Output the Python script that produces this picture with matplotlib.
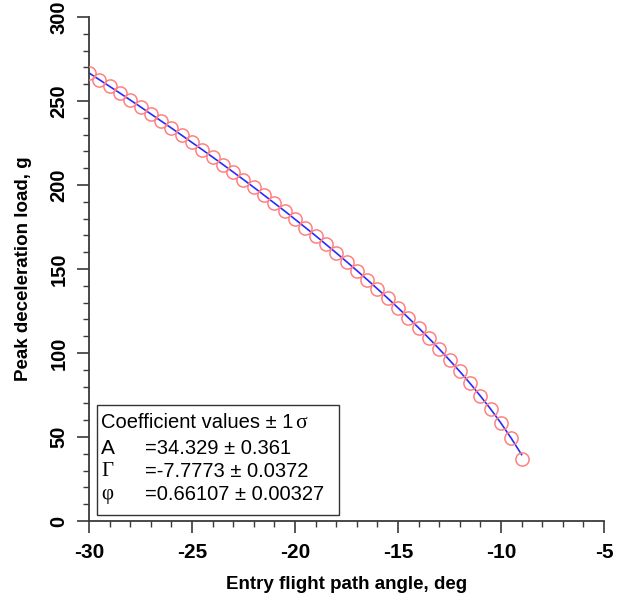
import numpy as np
import matplotlib
matplotlib.use("Agg")
import matplotlib.pyplot as plt
from matplotlib.ticker import MultipleLocator
from matplotlib.patches import Rectangle

SANS = ["Liberation Sans", "DejaVu Sans"]
SERIF = ["Liberation Serif", "DejaVu Serif"]
plt.rcParams["axes.unicode_minus"] = False
plt.rcParams["font.family"] = SANS

# entry flight path angle (deg) and peak deceleration load (g)
angle_deg = [-30.0, -29.5, -29.0, -28.5, -28.0, -27.5, -27.0, -26.5, -26.0, -25.5,
             -25.0, -24.5, -24.0, -23.5, -23.0, -22.5, -22.0, -21.5, -21.0, -20.5,
             -20.0, -19.5, -19.0, -18.5, -18.0, -17.5, -17.0, -16.5, -16.0, -15.5,
             -15.0, -14.5, -14.0, -13.5, -13.0, -12.5, -12.0, -11.5, -11.0, -10.5,
             -10.0, -9.5, -9.0]
load_g = [266.7, 262.7, 258.7, 254.7, 250.6, 246.5, 242.3, 238.1, 233.9, 229.6,
          225.3, 221.0, 216.6, 212.2, 207.7, 203.2, 198.6, 193.9, 189.2, 184.5,
          179.6, 174.7, 169.8, 164.7, 159.6, 154.4, 149.1, 143.7, 138.2, 132.6,
          126.9, 121.0, 115.0, 108.8, 102.4, 95.8, 89.0, 81.9, 74.4, 66.6,
          58.2, 49.2, 37.0]
# fitted curve values at the same angles
fit_g = [266.7, 262.7, 258.7, 254.7, 250.6, 246.5, 242.3, 238.1, 233.9, 229.6,
         225.3, 221.0, 216.6, 212.2, 207.7, 203.2, 198.6, 193.9, 189.2, 184.5,
         179.6, 174.7, 169.8, 164.7, 159.6, 154.4, 149.1, 143.7, 138.2, 132.6,
         126.9, 121.0, 115.0, 108.8, 102.4, 95.8, 89.0, 81.9, 74.4, 66.6,
         58.2, 49.2, 39.5]

coef_names = ["A", "\u0393", "\u03c6"]
coef_values = ["=34.329 \u00b1 0.361", "=-7.7773 \u00b1 0.0372", "=0.66107 \u00b1 0.00327"]

AXC = "#3a3a3a"

fig = plt.figure(figsize=(6.21, 6.05), dpi=100)
ax = fig.add_axes([89 / 621, 1 - 521 / 605, 515 / 621, 504 / 605])

ax.plot(angle_deg, fit_g, color="#2a2aff", lw=1.2, zorder=2)
ax.plot(angle_deg, load_g, ls="none", marker="o", ms=9.5, mfc="none",
        mec="#ff8080", mew=1.1, zorder=3)

ax.set_xlim(-30, -5)
ax.set_ylim(0, 300)
ax.xaxis.set_major_locator(MultipleLocator(5))
ax.xaxis.set_minor_locator(MultipleLocator(1))
ax.yaxis.set_major_locator(MultipleLocator(50))
ax.yaxis.set_minor_locator(MultipleLocator(10))

for s in ["top", "right"]:
    ax.spines[s].set_visible(False)
for s in ["left", "bottom"]:
    ax.spines[s].set_color(AXC)
    ax.spines[s].set_linewidth(1.3)

ax.tick_params(which="major", direction="out", length=8.6, width=1.2, color=AXC)
ax.tick_params(which="minor", direction="out", length=4.3, width=1.0, color=AXC)
ax.tick_params(axis="x", which="major", pad=7, labelsize=15)
ax.tick_params(axis="y", which="major", pad=6, labelsize=14.5, labelrotation=90)
plt.setp(ax.get_xticklabels(), fontweight="bold")
plt.setp(ax.get_yticklabels(), fontweight="bold", va="center")

ax.set_xlabel("Entry flight path angle, deg", weight="bold", fontsize=13.5, labelpad=10)
ax.set_ylabel("Peak deceleration load, g", weight="bold", fontsize=13.5, labelpad=13)

# coefficient box (figure pixel layout)
W, H = 621, 605
def fx(px):
    return px / W
def fy(py):
    return 1 - py / H

fig.patches.append(Rectangle((fx(97), fy(515)), fx(339) - fx(97), fy(405) - fy(515),
                             transform=fig.transFigure, fill=False, ec="#333333", lw=1.0))
head = fig.text(fx(101), fy(423), "Coefficient values \u00b1 1", fontsize=14.5, va="center")
fig.canvas.draw()
ax.annotate("\u03c3", xy=(1, 0.5), xycoords=head, xytext=(1, 0), textcoords="offset points",
            family=SERIF, fontsize=15.5, va="center", ha="left")
for i, (n, v) in enumerate(zip(coef_names, coef_values)):
    y = fy(448 + 23.5 * i)
    fam = SANS if n == "A" else SERIF
    fig.text(fx(101), y, n, family=fam, fontsize=15, va="center")
    fig.text(fx(145), y, v, fontsize=14.5, va="center")

fig.savefig("out.png", dpi=100)
